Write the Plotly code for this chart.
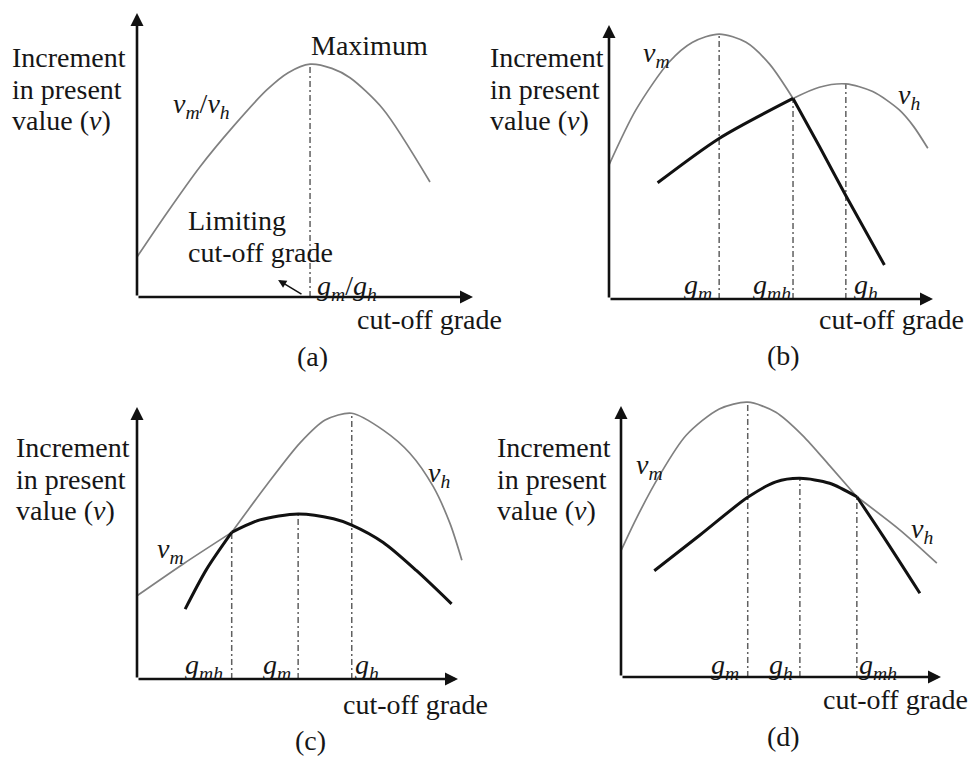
import plotly.graph_objects as go

W, H = 972, 758
FONT = "Liberation Serif"
GRAY = "#808080"
DASHC = "#606060"
TXT = "#161616"

# ---------------- data (grade on x, increment in present value on y; schematic units 0-10) ----------------
# (a) single curve v_m / v_h
a_x = [0, 0.89, 1.87, 2.86, 3.87, 4.50, 5.15, 5.80, 6.34, 7.32, 8.72]
a_v = [1.41, 2.96, 4.58, 6.00, 7.30, 7.90, 8.20, 8.05, 7.72, 6.62, 4.05]
a_g = [5.15]
a_gv = [8.20]

# (b)
b_vm_x = [0, 0.83, 1.85, 2.58, 3.40, 4.23, 4.95, 5.68]
b_vm_y = [4.89, 6.90, 8.64, 9.37, 9.67, 9.37, 8.58, 7.32]
b_vm_tail_x = [5.68, 6.50, 7.32, 8.50]
b_vm_tail_y = [7.32, 5.56, 3.75, 1.24]
b_vh_head_x = [1.50, 3.40, 5.68]
b_vh_head_y = [4.24, 5.86, 7.32]
b_vh_x = [5.68, 6.49, 7.31, 8.14, 8.96, 9.40, 9.84]
b_vh_y = [7.32, 7.73, 7.85, 7.57, 6.90, 6.30, 5.50]
b_g = [3.40, 5.68, 7.31]          # g_m, g_mh, g_h
b_gv = [9.67, 7.32, 7.85]

# (c)
c_vm_x = [0, 1.44, 2.95]
c_vm_y = [3.06, 4.23, 5.39]
c_vm_tail_x = [2.95, 3.83, 5.02, 6.12, 6.69, 7.67, 8.71, 9.80]
c_vm_tail_y = [5.39, 5.85, 6.07, 5.89, 5.66, 5.02, 3.98, 2.76]
c_vh_head_x = [1.50, 2.17, 2.95]
c_vh_head_y = [2.57, 4.04, 5.39]
c_vh_x = [2.95, 4.04, 5.08, 5.86, 6.69, 7.67, 8.50, 9.23, 9.75, 10.12]
c_vh_y = [5.39, 7.13, 8.68, 9.52, 9.77, 9.15, 8.30, 7.07, 5.72, 4.37]
c_g = [2.95, 5.02, 6.69]          # g_mh, g_m, g_h
c_gv = [5.39, 6.07, 9.77]

# (d)
d_vm_x = [0, 0.47, 1.20, 2.03, 3.07, 3.96, 4.84, 5.68, 6.52, 7.37]
d_vm_y = [4.66, 5.83, 7.43, 8.91, 9.89, 10.14, 9.77, 8.91, 7.80, 6.65]
d_vm_tail_x = [7.37, 8.20, 9.34]
d_vm_tail_y = [6.65, 5.18, 3.09]
d_vh_head_x = [1.04, 2.47, 3.96, 4.84, 5.59, 6.52, 7.37]
d_vh_head_y = [3.92, 5.24, 6.63, 7.20, 7.33, 7.15, 6.65]
d_vh_x = [7.37, 8.72, 9.87]
d_vh_y = [6.65, 5.42, 4.20]
d_g = [3.96, 5.59, 7.37]          # g_m, g_h, g_mh
d_gv = [10.14, 7.33, 6.65]

# ---------------- layout geometry (pixels) ----------------
panels = {
    "a": dict(box=(0, 0, 486, 379), origin=(137, 297), end=(473, 13), ax=("x", "y")),
    "b": dict(box=(486, 0, 972, 379), origin=(609, 299), end=(933, 25), ax=("x2", "y2")),
    "c": dict(box=(0, 379, 486, 758), origin=(137, 679), end=(458, 407), ax=("x3", "y3")),
    "d": dict(box=(486, 379, 972, 758), origin=(621, 677), end=(941, 406), ax=("x4", "y4")),
}

fig = go.Figure()
layout_axes = {}
annotations = []

for key, p in panels.items():
    x0, y0, x1, y1 = p["box"]
    ox, oy = p["origin"]
    ex, ey = p["end"]
    sx = (ex - ox) / 10.0
    sy = (oy - ey) / 10.0
    xr, yr = p["ax"]
    xname = "xaxis" + xr[1:]
    yname = "yaxis" + yr[1:]
    layout_axes[xname] = dict(domain=[x0 / W, x1 / W], range=[(x0 - ox) / sx, (x1 - ox) / sx],
                              visible=False, anchor=yr, fixedrange=True)
    layout_axes[yname] = dict(domain=[1 - y1 / H, 1 - y0 / H], range=[(oy - y1) / sy, (oy - y0) / sy],
                              visible=False, anchor=xr, fixedrange=True)
    for hx, hy in [(10, 0), (0, 10)]:
        annotations.append(dict(x=hx, y=hy, ax=0, ay=0, xref=xr, yref=yr, axref=xr, ayref=yr,
                                text="", showarrow=True, arrowhead=2, arrowsize=1.0,
                                arrowwidth=2.6, arrowcolor="#111111", standoff=0, startstandoff=0))


def line(xr, yr, xs, ys, color, width, shape="spline", dash="solid"):
    fig.add_trace(go.Scatter(x=xs, y=ys, xaxis=xr, yaxis=yr, mode="lines",
                             line=dict(color=color, width=width, shape=shape, dash=dash,
                                       smoothing=0.8 if shape == "spline" else None),
                             hoverinfo="skip", showlegend=False))


def guides(xr, yr, gx, gv):
    for g, v in zip(gx, gv):
        line(xr, yr, [g, g], [0, v], DASHC, 1.5, shape="linear", dash="6px,3px,2px,3px")


guides("x", "y", a_g, a_gv)
line("x", "y", a_x, a_v, GRAY, 1.7)
annotations.append(dict(x=4.20, y=0.60, ax=4.94, ay=0.07, xref="x", yref="y", axref="x", ayref="y",
                        text="", showarrow=True, arrowhead=2, arrowsize=1.1, arrowwidth=1.5,
                        arrowcolor="#111111"))

guides("x2", "y2", b_g, b_gv)
line("x2", "y2", b_vm_x, b_vm_y, GRAY, 1.7)
line("x2", "y2", b_vh_x, b_vh_y, GRAY, 1.7)
line("x2", "y2", b_vh_head_x, b_vh_head_y, "#111111", 3.0)
line("x2", "y2", b_vm_tail_x, b_vm_tail_y, "#111111", 3.0)

guides("x3", "y3", c_g, c_gv)
line("x3", "y3", c_vm_x, c_vm_y, GRAY, 1.7)
line("x3", "y3", c_vh_x, c_vh_y, GRAY, 1.7)
line("x3", "y3", c_vh_head_x, c_vh_head_y, "#111111", 3.0)
line("x3", "y3", c_vm_tail_x, c_vm_tail_y, "#111111", 3.0)

guides("x4", "y4", d_g, d_gv)
line("x4", "y4", d_vm_x, d_vm_y, GRAY, 1.7)
line("x4", "y4", d_vh_x, d_vh_y, GRAY, 1.7)
line("x4", "y4", d_vh_head_x, d_vh_head_y, "#111111", 3.0)
line("x4", "y4", d_vm_tail_x, d_vm_tail_y, "#111111", 3.0)


def T(px, py, text, anchor="left", size=28, family=FONT):
    annotations.append(dict(x=px / W, y=1 - py / H, xref="paper", yref="paper", text=text,
                            showarrow=False, xanchor=anchor, yanchor="middle", align=anchor,
                            font=dict(family=family, size=size, color=TXT)))


vm = "<i>v</i><sub><i>m</i></sub>"
vh = "<i>v</i><sub><i>h</i></sub>"
gm = "<i>g</i><sub><i>m</i></sub>"
gh = "<i>g</i><sub><i>h</i></sub>"
gmh = "<i>g</i><sub><i>mh</i></sub>"
ylab = ["Increment", "in present", "value (<i>v</i>)"]

for t, yy in zip(ylab, [57, 89, 120]):
    T(10, yy, t)
T(309, 45, "Maximum")
T(171, 105, vm + "/" + vh)
T(186, 220, "Limiting")
T(186, 252, "cut-off grade")
T(315, 287, gm + "/" + gh)
T(355, 320, "cut-off grade")
T(312, 357, "(a)", anchor="center")

for t, yy in zip(ylab, [57, 89, 120]):
    T(488, yy, t)
T(641, 54, vm)
T(896, 96, vh)
T(682, 286, gm)
T(751, 286, gmh)
T(852, 286, gh)
T(817, 320, "cut-off grade")
T(783, 355, "(b)", anchor="center")

for t, yy in zip(ylab, [447, 479, 510]):
    T(14, yy, t)
T(426, 474, vh)
T(155, 550, vm)
T(183, 666, gmh)
T(261, 666, gm)
T(353, 666, gh)
T(341, 704, "cut-off grade")
T(310, 740, "(c)", anchor="center")

for t, yy in zip(ylab, [447, 479, 510]):
    T(495, yy, t)
T(634, 466, vm)
T(909, 530, vh)
T(709, 666, gm)
T(767, 666, gh)
T(857, 666, gmh)
T(821, 699, "cut-off grade")
T(783, 736, "(d)", anchor="center")

fig.update_layout(width=W, height=H, margin=dict(l=0, r=0, t=0, b=0),
                  paper_bgcolor="white", plot_bgcolor="rgba(0,0,0,0)",
                  showlegend=False, annotations=annotations, **layout_axes)

fig.write_html("out.html", config={"displayModeBar": False},
               post_script="document.body.style.margin='0px';document.body.style.overflow='hidden';")
